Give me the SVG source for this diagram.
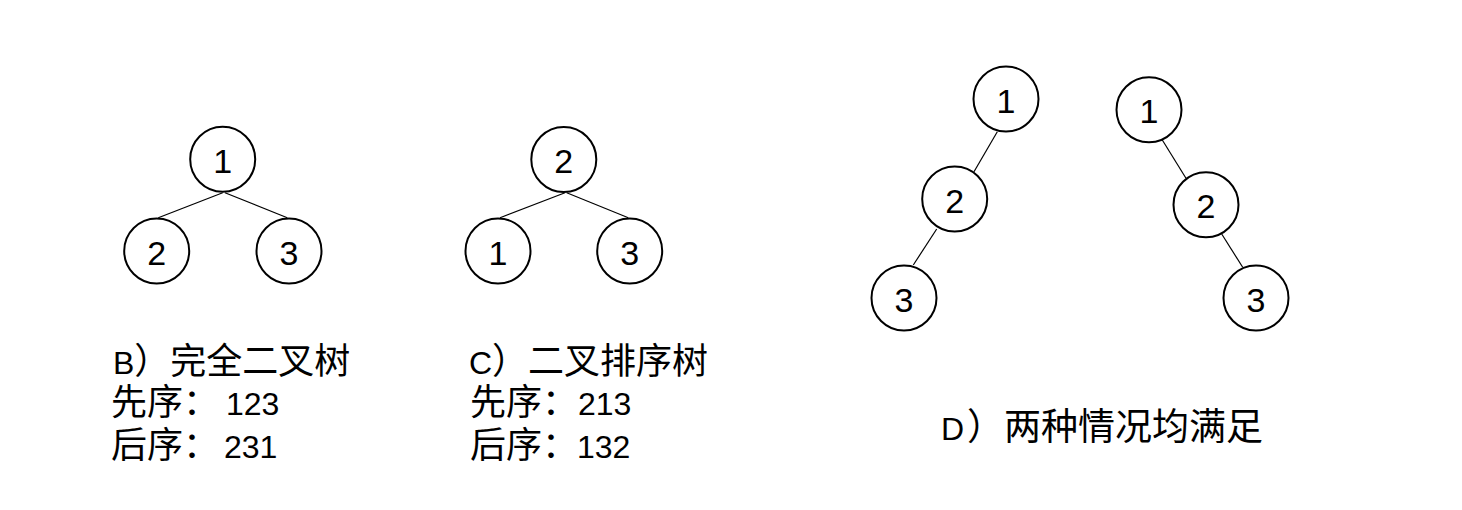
<svg xmlns="http://www.w3.org/2000/svg" width="1462" height="510" viewBox="0 0 1462 510">
<style>
.node circle{fill:#fff;stroke:#000;stroke-width:2}
.node text{font-family:"Liberation Sans","Noto Sans CJK SC",sans-serif;font-size:34px;text-anchor:middle;fill:#000}
.edges line{stroke:#000;stroke-width:1.2}
.lbl{font-family:"Liberation Sans","Noto Sans CJK SC",sans-serif;font-size:32px;fill:#000}
.c{font-family:"Noto Sans CJK SC",sans-serif;font-size:36px}
</style>
<rect width="1462" height="510" fill="#fff"/>
<g class="edges">
<line x1="222.7" y1="192.7" x2="158.3" y2="217.7"/>
<line x1="225" y1="192.7" x2="287.3" y2="217.7"/>
<line x1="565" y1="192.7" x2="500" y2="217.7"/>
<line x1="566.7" y1="192.7" x2="628.3" y2="217.7"/>
<line x1="997.3" y1="131.7" x2="974" y2="171.7"/>
<line x1="936.7" y1="229" x2="913.3" y2="265"/>
<line x1="1162.3" y1="140" x2="1186" y2="178.3"/>
<line x1="1221.7" y1="234" x2="1242.7" y2="267.3"/>
</g>
<g id="b1" class="node"><circle cx="222.7" cy="159.3" r="32.5"/><text x="222.7" y="172.8">1</text></g>
<g id="b2" class="node"><circle cx="156.7" cy="251" r="32.5"/><text x="156.7" y="264.5">2</text></g>
<g id="b3" class="node"><circle cx="289" cy="251" r="32.5"/><text x="289" y="264.5">3</text></g>
<g id="c2" class="node"><circle cx="563.8" cy="159.5" r="32.5"/><text x="563.8" y="173">2</text></g>
<g id="c1" class="node"><circle cx="498" cy="251" r="32.5"/><text x="498" y="264.5">1</text></g>
<g id="c3" class="node"><circle cx="629.7" cy="251" r="32.5"/><text x="629.7" y="264.5">3</text></g>
<g id="dl1" class="node"><circle cx="1006" cy="99" r="32.5"/><text x="1006" y="112.5">1</text></g>
<g id="dl2" class="node"><circle cx="954.7" cy="199" r="32.5"/><text x="954.7" y="212.5">2</text></g>
<g id="dl3" class="node"><circle cx="904" cy="298" r="32.5"/><text x="904" y="311.5">3</text></g>
<g id="dr1" class="node"><circle cx="1149" cy="109.7" r="32.5"/><text x="1149" y="123.2">1</text></g>
<g id="dr2" class="node"><circle cx="1206" cy="204.7" r="32.5"/><text x="1206" y="218.2">2</text></g>
<g id="dr3" class="node"><circle cx="1256" cy="298" r="32.5"/><text x="1256" y="311.5">3</text></g>
<g id="labelB">
<text class="lbl" x="113" y="374">B<tspan class="c">）完全二叉树</tspan></text>
<text class="lbl" x="111" y="415"><tspan class="c">先序：</tspan><tspan x="226">123</tspan></text>
<text class="lbl" x="111" y="458"><tspan class="c">后序：</tspan><tspan x="224">231</tspan></text>
</g>
<g id="labelC">
<text class="lbl" x="469" y="374">C<tspan class="c">）二叉排序树</tspan></text>
<text class="lbl" x="470" y="415"><tspan class="c">先序：</tspan><tspan x="578">213</tspan></text>
<text class="lbl" x="470" y="458"><tspan class="c">后序：</tspan><tspan x="577">132</tspan></text>
</g>
<g id="labelD">
<text class="lbl" x="941" y="440">D<tspan class="c" dx="3" style="font-size:37px">）两种情况均满足</tspan></text>
</g>
</svg>
